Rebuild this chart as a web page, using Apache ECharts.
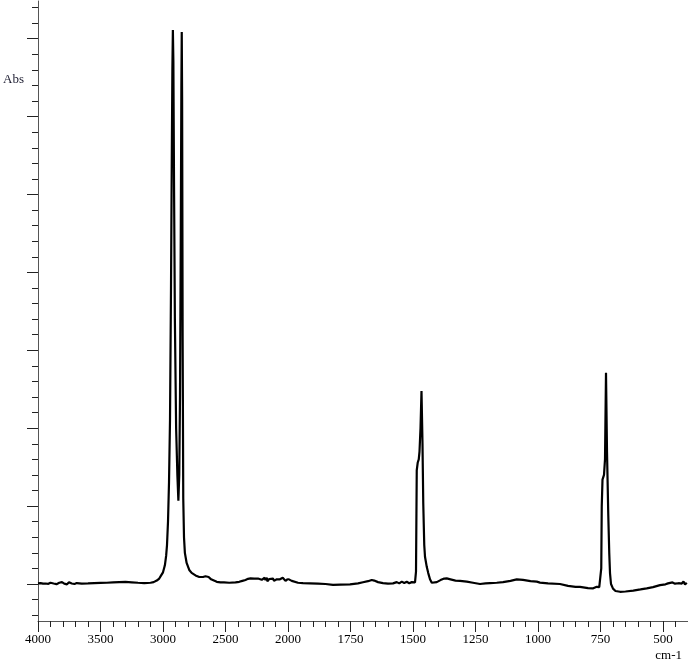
<!DOCTYPE html>
<html>
<head>
<meta charset="utf-8">
<script src="https://cdn.jsdelivr.net/npm/echarts@6/dist/echarts.min.js"></script>
<style>
html,body{margin:0;padding:0;background:#fff;}
#chart{width:688px;height:662px;}
</style>
</head>
<body>
<div id="chart"></div>
<script>
// ---- Data: wavenumber (cm-1) and absorbance (arbitrary units) ----
// Region 4000 - 2000 cm-1 (compressed scale)
const highWN = [4000,3990,3980,3970,3960,3950,3940,3932,3925,3917,3910,3900,3892,3885,3875,3868,3860,3852,3845,3838,3830,3822,3815,3808,3800,3790,3782,3775,3768,3760,3752,3745,3738,3730,3722,3715,3708,3700,3690,3680,3650,3600,3550,3500,3450,3400,3350,3300,3250,3200,3150,3100,3075,3050,3030,3015,3000,2985,2975,2968,2960,2952,2944,2936,2930,2925,2921,2917,2912,2905,2895,2885,2877,2870,2864,2858,2853,2850,2847,2843,2838,2832,2825,2811,2790,2771,2740,2710,2680,2660,2650,2635,2615,2600,2570,2540,2512,2470,2420,2390,2375,2365,2352,2340,2330,2320,2310,2300,2285,2270,2262,2255,2240,2232,2225,2210,2195,2187,2180,2170,2165,2160,2150,2142,2135,2120,2112,2105,2090,2082,2075,2064,2050,2042,2035,2020,2010,2000];
const highAbs = [0.004,0.008,0.006,0.001,0.002,0.010,0.003,0.012,0.010,0.001,0.002,0.008,0.014,0.012,0.003,0.010,0.009,-0.001,0.001,0.011,0.008,0.000,0.004,0.012,0.013,0.002,0.006,0.009,-0.002,0.000,0.011,0.010,0.001,0.003,0.010,0.008,0.000,0.002,0.006,0.005,0.003,0.004,0.006,0.007,0.008,0.010,0.012,0.013,0.011,0.008,0.006,0.008,0.012,0.022,0.035,0.055,0.075,0.120,0.180,0.250,0.400,0.650,1.050,1.900,2.700,3.300,3.556,3.350,2.600,1.700,1.000,0.700,0.535,0.700,1.200,2.200,3.200,3.543,3.100,1.600,0.550,0.300,0.200,0.135,0.090,0.071,0.055,0.045,0.045,0.050,0.052,0.045,0.030,0.025,0.014,0.010,0.011,0.008,0.010,0.014,0.012,0.020,0.031,0.026,0.034,0.033,0.038,0.036,0.030,0.034,0.042,0.028,0.035,0.024,0.031,0.027,0.033,0.040,0.025,0.040,0.018,0.022,0.032,0.042,0.027,0.035,0.020,0.026,0.030,0.038,0.024,0.030,0.021,0.040,0.034,0.020,0.028,0.033];
// Region 2000 - 400 cm-1 (expanded scale)
const lowWN = [2000,1992,1985,1980,1960,1940,1912,1880,1850,1820,1790,1752,1720,1700,1680,1665,1655,1640,1620,1600,1580,1565,1555,1545,1535,1525,1515,1505,1497,1492,1488,1485,1481,1477,1474,1470,1466,1462,1459,1455,1452,1445,1439,1432,1425,1418,1405,1390,1375,1365,1350,1330,1312,1285,1260,1232,1210,1192,1165,1140,1110,1085,1060,1030,1005,992,960,912,880,850,832,800,779,765,755,750,747,745,742,736,732,728,724,719,715,712,708,700,690,672,650,619,590,565,540,512,490,480,472,462,452,445,438,432,425,418,412,405];
const lowAbs = [0.033,0.037,0.020,0.011,0.008,0.005,0.004,0.002,0.000,-0.006,-0.004,-0.002,0.004,0.011,0.018,0.026,0.022,0.012,0.006,0.003,0.004,0.012,0.004,0.015,0.006,0.014,0.005,0.012,0.007,0.010,0.080,0.730,0.780,0.800,0.850,1.000,1.239,0.900,0.520,0.250,0.175,0.110,0.070,0.030,0.008,0.004,0.012,0.025,0.035,0.036,0.030,0.022,0.020,0.015,0.008,0.000,0.004,0.006,0.008,0.012,0.020,0.030,0.026,0.018,0.015,0.009,0.004,0.000,-0.012,-0.018,-0.018,-0.026,-0.028,-0.018,-0.020,-0.020,0.100,0.500,0.670,0.700,0.800,1.356,0.850,0.450,0.200,0.070,0.000,-0.030,-0.045,-0.050,-0.048,-0.043,-0.035,-0.028,-0.020,-0.007,-0.002,0.004,-0.002,0.010,0.002,0.013,0.005,0.015,0.003,0.016,-0.004,0.008];

// ---- Tick labels ----
const highMajor = [4000,3500,3000,2500,2000];
const lowMajor = [1750,1500,1250,1000,750,500];
const yMajor = [0,0.5,1,1.5,2,2.5,3,3.5];

function steps(a, b, s) { const out = []; const n = Math.round((b - a) / s); for (let k = 0; k <= n; k++) out.push(Math.round((a + k * s) * 1000) / 1000); return out; }
const highMinor = steps(2000, 4000, 100);
const lowMinor = steps(400, 2000, 50);
const yMinor = steps(-0.2, 3.7, 0.1);

const Y_MIN = -0.2375, Y_MAX = 3.742;
const FONT = 'Liberation Serif';
const lineCol = '#555';
const tickCol = '#222';

const chart = echarts.init(document.getElementById('chart'), null, {renderer: 'canvas'});

function xAx(gi, min, max, vals, len, labels, showLine) {
  return {
    type: 'value', gridIndex: gi, min: min, max: max, inverse: true, position: 'bottom',
    axisLine: {show: showLine, onZero: false, lineStyle: {color: lineCol, width: 1}},
    axisTick: {show: true, inside: false, length: len, customValues: vals, lineStyle: {color: tickCol, width: 1}},
    axisLabel: labels ? {show: true, customValues: labels, margin: 12, color: '#000', fontFamily: FONT, fontSize: 13,
      formatter: function (v) { return String(v); }} : {show: false},
    splitLine: {show: false}
  };
}
function yAx(gi, vals, len, showLine, show) {
  return {
    type: 'value', gridIndex: gi, min: Y_MIN, max: Y_MAX, position: 'left', show: show,
    axisLine: {show: showLine, onZero: false, lineStyle: {color: lineCol, width: 1}},
    axisTick: {show: true, inside: false, length: len, customValues: vals, lineStyle: {color: tickCol, width: 1}},
    axisLabel: {show: false},
    splitLine: {show: false}
  };
}

const option = {
  backgroundColor: '#fff',
  animation: false,
  grid: [
    {left: 38, top: 1, width: 250, height: 620},
    {left: 288, top: 1, width: 400, height: 620}
  ],
  xAxis: [
    xAx(0, 2000, 4000, highMinor, 6, null, true),
    xAx(0, 2000, 4000, highMajor, 11, highMajor, false),
    xAx(1, 400, 2000, lowMinor, 6, null, true),
    xAx(1, 400, 2000, lowMajor, 11, lowMajor, false)
  ],
  yAxis: [
    yAx(0, yMinor, 6, true, true),
    yAx(0, yMajor, 11, false, true),
    yAx(1, [], 0, false, false)
  ],
  graphic: [
    {type: 'text', left: 3, top: 73, style: {text: 'Abs', fill: '#1c1c30', font: '13px "Liberation Serif"'}},
    {type: 'text', right: 6, top: 649, style: {text: 'cm-1', fill: '#000', font: '13px "Liberation Serif"'}}
  ],
  series: [
    {type: 'line', xAxisIndex: 0, yAxisIndex: 0, showSymbol: false, symbol: 'none',
     data: highWN.map((w, i) => [w, highAbs[i]]),
     lineStyle: {color: '#000', width: 2.2}},
    {type: 'line', xAxisIndex: 2, yAxisIndex: 2, showSymbol: false, symbol: 'none',
     data: lowWN.map((w, i) => [w, lowAbs[i]]),
     lineStyle: {color: '#000', width: 2.2}}
  ]
};
chart.setOption(option);
</script>
</body>
</html>
